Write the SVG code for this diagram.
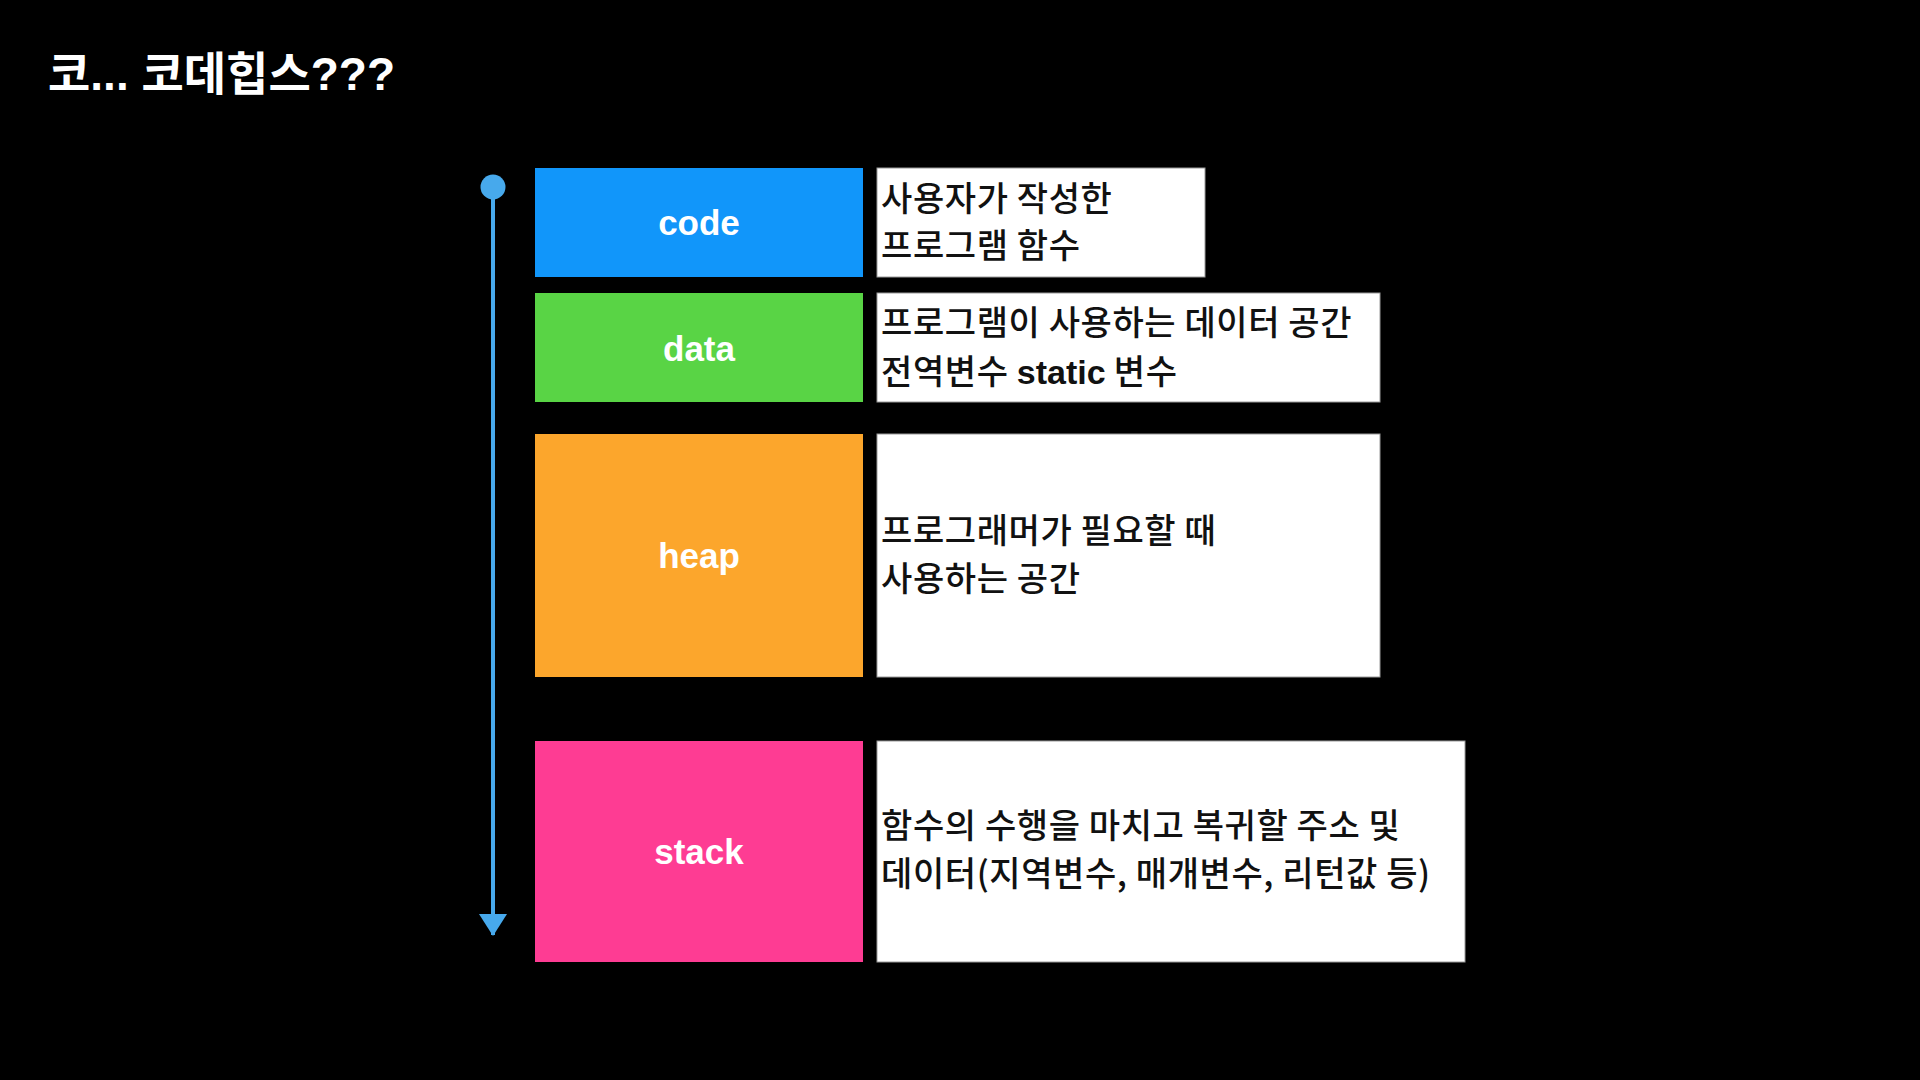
<svg xmlns="http://www.w3.org/2000/svg" width="1920" height="1080" viewBox="0 0 1920 1080">
<style>
.label{font-family:"Liberation Sans","Noto Sans CJK KR",sans-serif;font-weight:bold;font-size:35px;fill:#ffffff;text-anchor:middle}
.desc{font-family:"Noto Sans CJK KR","Liberation Sans",sans-serif;font-weight:500;font-size:34px;letter-spacing:0.6px;fill:#111111}
.lat{font-family:"Liberation Sans",sans-serif;font-weight:bold;letter-spacing:0}
.box{fill:#ffffff;stroke:#9a9a9a;stroke-width:1}
.title{font-family:"Liberation Sans","Noto Sans CJK KR",sans-serif;font-weight:bold;font-size:46px;fill:#ffffff}
</style>
<defs>
<marker id="arrowhead" markerWidth="30" markerHeight="24" refX="15" refY="22" orient="0" markerUnits="userSpaceOnUse">
<path d="M1,1 L29,1 L15,23 Z" fill="#47a9ec"/>
</marker>
</defs>
<rect x="0" y="0" width="1920" height="1080" fill="#000000"/>
<text class="title" x="48" y="90">코... 코데힙스???</text>
<g id="connectors">
<line x1="493" y1="190" x2="493" y2="935" stroke="#47a9ec" stroke-width="4" marker-end="url(#arrowhead)"/>
<circle cx="493" cy="187" r="12.5" fill="#47a9ec"/>
</g>
<g id="node-code">
<rect x="535" y="168" width="328" height="109" fill="#1196fa"/>
<text class="label" x="699" y="235">code</text>
</g>
<g id="desc-code">
<rect class="box" x="877" y="168" width="328" height="109"/>
<text class="desc" x="881" y="211">사용자가 작성한</text>
<text class="desc" x="881" y="258">프로그램 함수</text>
</g>
<g id="node-data">
<rect x="535" y="293" width="328" height="109" fill="#59d445"/>
<text class="label" x="699" y="361">data</text>
</g>
<g id="desc-data">
<rect class="box" x="877" y="293" width="503" height="109"/>
<text class="desc" x="881" y="335">프로그램이 사용하는 데이터 공간</text>
<text class="desc" x="881" y="384">전역변수 <tspan class="lat">static</tspan> 변수</text>
</g>
<g id="node-heap">
<rect x="535" y="434" width="328" height="243" fill="#fca62c"/>
<text class="label" x="699" y="568">heap</text>
</g>
<g id="desc-heap">
<rect class="box" x="877" y="434" width="503" height="243"/>
<text class="desc" x="881" y="543">프로그래머가 필요할 때</text>
<text class="desc" x="881" y="591">사용하는 공간</text>
</g>
<g id="node-stack">
<rect x="535" y="741" width="328" height="221" fill="#fe3c93"/>
<text class="label" x="699" y="864">stack</text>
</g>
<g id="desc-stack">
<rect class="box" x="877" y="741" width="588" height="221"/>
<text class="desc" x="881" y="838">함수의 수행을 마치고 복귀할 주소 및</text>
<text class="desc" x="881" y="886">데이터(지역변수, 매개변수, 리턴값 등)</text>
</g>
</svg>
